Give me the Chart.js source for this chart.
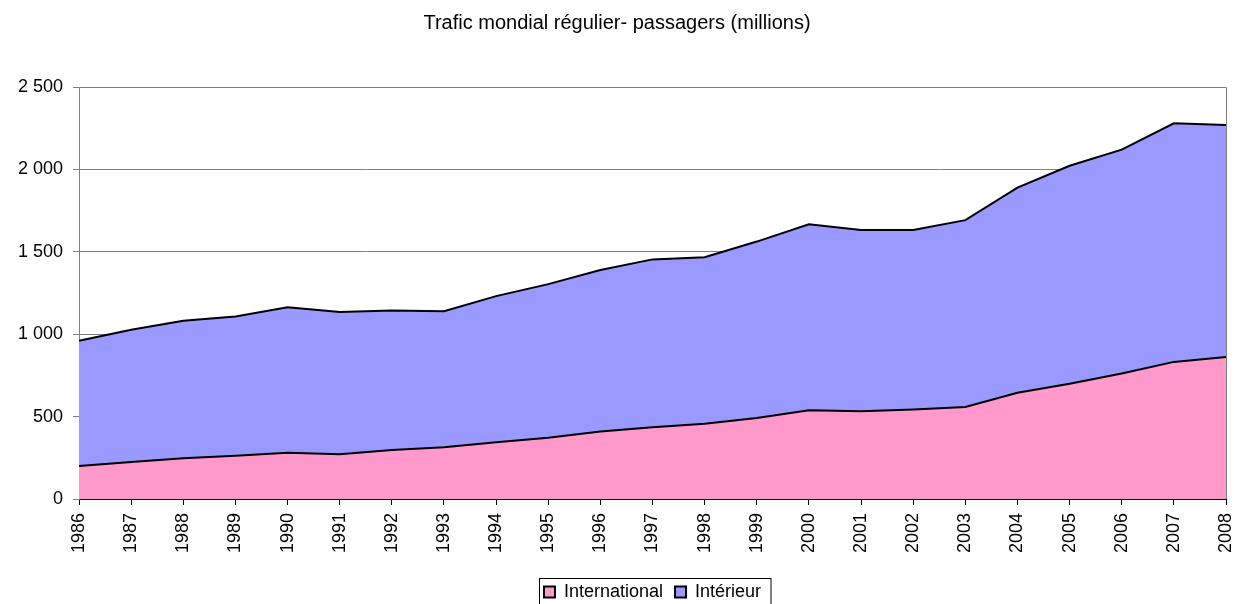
<!DOCTYPE html>
<html>
<head>
<meta charset="utf-8">
<script src="https://cdn.jsdelivr.net/npm/chart.js@4"></script>
<style>
  html, body { margin: 0; padding: 0; background: #fff; }
  #wrap { width: 1234px; height: 604px; }
</style>
</head>
<body>
<div id="wrap"><canvas id="c" width="1234" height="604"></canvas></div>
<script>
// years on the x axis
const years = ['1986','1987','1988','1989','1990','1991','1992','1993','1994','1995','1996',
  '1997','1998','1999','2000','2001','2002','2003','2004','2005','2006','2007','2008'];

// millions of passengers
const international = [200, 225, 247, 263, 281, 271, 298, 314, 345, 372, 410,
  436, 456, 491, 538, 533, 543, 558, 645, 700, 762, 832, 862];
const interieur = [760, 802, 834, 844, 883, 863, 846, 826, 886, 932, 979,
  1018, 1011, 1071, 1129, 1100, 1090, 1134, 1245, 1322, 1358, 1448, 1408];

const yTicks = [0, 500, 1000, 1500, 2000, 2500];

const FONT = 'Arial, "Liberation Sans", sans-serif';

// gray frame round the plot area + black frame round the legend
const frames = {
  id: 'frames',
  afterDraw(chart) {
    const ctx = chart.ctx;
    const a = chart.chartArea;
    ctx.save();
    ctx.strokeStyle = '#808080';
    ctx.lineWidth = 1;
    ctx.beginPath();
    ctx.moveTo(a.left, a.top + 0.5);
    ctx.lineTo(a.right + 0.5, a.top + 0.5);
    ctx.lineTo(a.right + 0.5, a.bottom);
    ctx.stroke();

    const boxes = chart.legend.legendHitBoxes;
    if (boxes && boxes.length) {
      let l = Infinity, r = -Infinity, t = Infinity;
      boxes.forEach(h => {
        l = Math.min(l, h.left); r = Math.max(r, h.left + h.width);
        t = Math.min(t, h.top);
      });
      const x0 = Math.round(l - 5) + 0.5, y0 = Math.round(t - 5) + 0.5;
      ctx.strokeStyle = '#000';
      ctx.strokeRect(x0, y0, Math.round(r + 10) - x0, 640 - y0);
    }
    ctx.restore();
  }
};

new Chart(document.getElementById('c'), {
  type: 'line',
  data: {
    labels: years,
    datasets: [
      {
        label: 'International',
        data: international,
        backgroundColor: '#FF99CC',
        borderColor: '#000',
        borderWidth: 2,
        fill: 'origin',
        pointRadius: 0,
        tension: 0
      },
      {
        label: 'Intérieur',
        data: interieur,
        backgroundColor: '#9999FF',
        borderColor: '#000',
        borderWidth: 2,
        fill: '-1',
        pointRadius: 0,
        tension: 0
      }
    ]
  },
  options: {
    responsive: false,
    animation: false,
    layout: { padding: { left: 8, right: 8, top: 0, bottom: -7 } },
    plugins: {
      title: {
        display: true,
        text: 'Trafic mondial régulier- passagers (millions)',
        color: '#000',
        font: { family: FONT, size: 20, weight: 'normal' },
        padding: { top: 11, bottom: 52 }
      },
      legend: {
        position: 'bottom',
        fullSize: false,
        labels: {
          color: '#000',
          font: { family: FONT, size: 18 },
          boxWidth: 11,
          boxHeight: 11,
          padding: 12
        }
      },
      tooltip: { enabled: false }
    },
    scales: {
      x: {
        offset: false,
        afterFit(axis) {
          axis.height = 72;
          axis.paddingLeft = 0;
          axis.paddingRight = 0;
        },
        grid: {
          drawOnChartArea: false,
          color: '#000',
          tickLength: 6
        },
        border: { color: '#000', width: 1 },
        ticks: {
          color: '#000',
          font: { family: FONT, size: 18 },
          minRotation: 90,
          maxRotation: 90,
          autoSkip: false,
          padding: 8
        }
      },
      y: {
        stacked: true,
        min: 0,
        max: 2500,
        afterBuildTicks(axis) {
          axis.ticks = yTicks.map(v => ({ value: v }));
        },
        grid: {
          color: '#808080',
          tickLength: 6
        },
        border: { color: '#808080', width: 1 },
        ticks: {
          color: '#000',
          font: { family: FONT, size: 18 },
          padding: 10,
          callback: v => String(v).replace(/\B(?=(\d{3})+(?!\d))/g, ' ')
        }
      }
    }
  },
  plugins: [frames]
});
</script>
</body>
</html>
